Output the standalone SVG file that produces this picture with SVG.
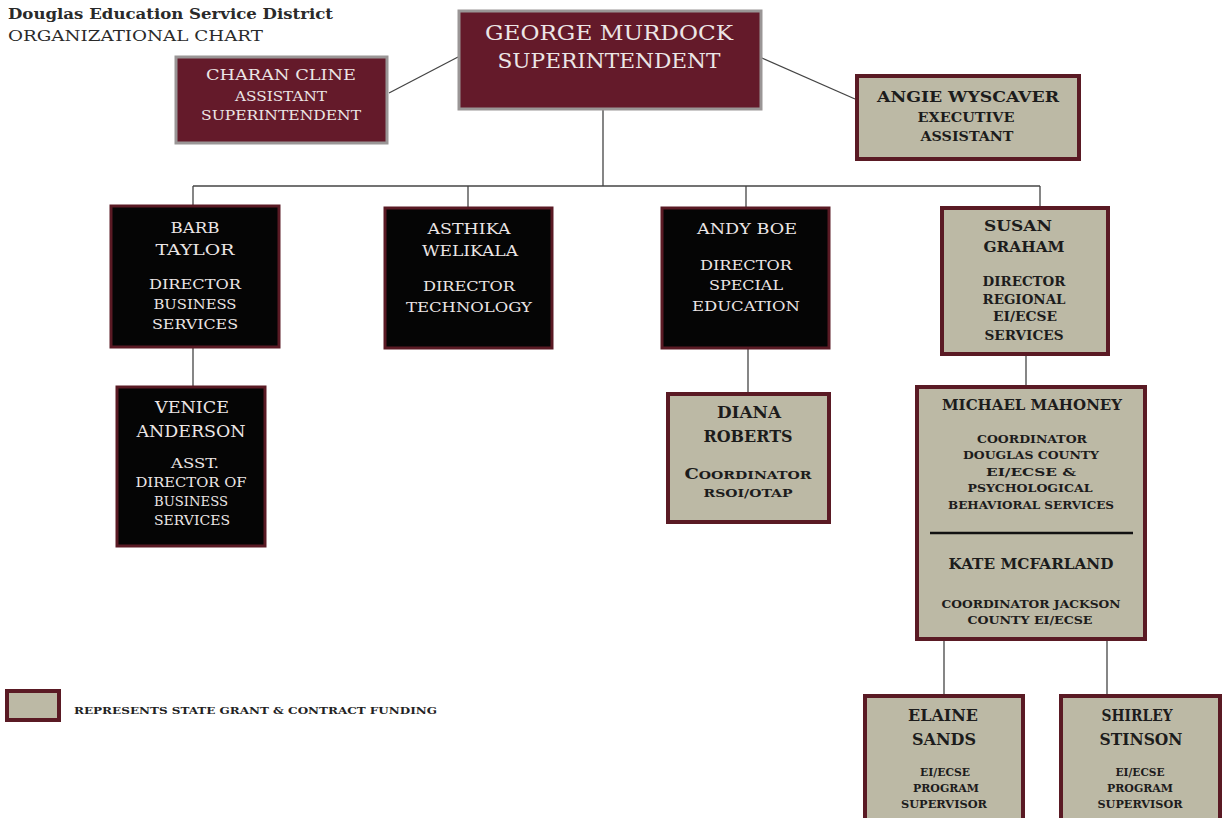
<svg xmlns="http://www.w3.org/2000/svg" width="1224" height="818" viewBox="0 0 1224 818">
<style>
text{font-family:"DejaVu Serif","Liberation Serif",serif;text-anchor:middle}
.dark{fill:#641a2a;stroke:#9a9696;stroke-width:3}
.blk{fill:#050505;stroke:#5a1a24;stroke-width:3}
.grey{fill:#bcb9a5;stroke:#5a1a24;stroke-width:4}
.lt{fill:#ece6e6}
.dk{fill:#1c1c1c;font-weight:bold}
.con{stroke:#444;stroke-width:1.3;fill:none}
.t1{font-size:15px}
.t2{font-size:12px}
.t3{font-size:11px}
</style>
<rect width="1224" height="818" fill="#ffffff"/>
<g id="title">
<text x="8" y="19" textLength="325" lengthAdjust="spacingAndGlyphs" style="text-anchor:start;font-size:15px;font-weight:bold" fill="#2a2a2a">Douglas Education Service District</text>
<text x="8" y="41" textLength="255" lengthAdjust="spacingAndGlyphs" style="text-anchor:start;font-size:15px" fill="#2a2a2a">ORGANIZATIONAL CHART</text>
</g>
<g id="connectors" class="con">
<line x1="389" y1="93" x2="458" y2="57"/>
<line x1="762" y1="58" x2="855" y2="99"/>
<line x1="603" y1="110" x2="603" y2="186"/>
<line x1="193" y1="186" x2="1040" y2="186"/>
<line x1="193" y1="186" x2="193" y2="205"/>
<line x1="468" y1="186" x2="468" y2="207"/>
<line x1="746" y1="186" x2="746" y2="207"/>
<line x1="1040" y1="186" x2="1040" y2="206"/>
<line x1="193" y1="348" x2="193" y2="386"/>
<line x1="748" y1="349" x2="748" y2="392"/>
<line x1="1026" y1="356" x2="1026" y2="385"/>
<line x1="944" y1="641" x2="944" y2="694"/>
<line x1="1107" y1="641" x2="1107" y2="694"/>
</g>
<g id="murdock">
<rect class="dark" x="459" y="11" width="302" height="98"/>
<text class="lt" x="609" y="40" textLength="248" lengthAdjust="spacingAndGlyphs" style="font-size:20px">GEORGE MURDOCK</text>
<text class="lt" x="609" y="68" textLength="223" lengthAdjust="spacingAndGlyphs" style="font-size:20px">SUPERINTENDENT</text>
</g>
<g id="cline">
<rect class="dark" x="176" y="57" width="211" height="86"/>
<text class="lt t1" x="281" y="80" textLength="150" lengthAdjust="spacingAndGlyphs">CHARAN CLINE</text>
<text class="lt t2" x="281" y="101" textLength="92" lengthAdjust="spacingAndGlyphs">ASSISTANT</text>
<text class="lt t2" x="281" y="120" textLength="160" lengthAdjust="spacingAndGlyphs">SUPERINTENDENT</text>
</g>
<g id="wyscaver">
<rect class="grey" x="857" y="76" width="222" height="83"/>
<text class="dk t1" x="968" y="102" textLength="182" lengthAdjust="spacingAndGlyphs">ANGIE WYSCAVER</text>
<text class="dk" x="966" y="122" textLength="97" lengthAdjust="spacingAndGlyphs" style="font-size:13px">EXECUTIVE</text>
<text class="dk" x="967" y="141" textLength="93" lengthAdjust="spacingAndGlyphs" style="font-size:13px">ASSISTANT</text>
</g>
<g id="taylor">
<rect class="blk" x="111" y="206" width="168" height="141"/>
<text class="lt t1" x="195" y="233" textLength="49" lengthAdjust="spacingAndGlyphs">BARB</text>
<text class="lt t1" x="195" y="255" textLength="79" lengthAdjust="spacingAndGlyphs">TAYLOR</text>
<text class="lt t2" x="195" y="289" textLength="92" lengthAdjust="spacingAndGlyphs">DIRECTOR</text>
<text class="lt t2" x="195" y="309" textLength="83" lengthAdjust="spacingAndGlyphs">BUSINESS</text>
<text class="lt t2" x="195" y="329" textLength="86" lengthAdjust="spacingAndGlyphs">SERVICES</text>
</g>
<g id="welikala">
<rect class="blk" x="385" y="208" width="167" height="140"/>
<text class="lt t1" x="469" y="234" textLength="83" lengthAdjust="spacingAndGlyphs">ASTHIKA</text>
<text class="lt t1" x="470" y="256" textLength="96" lengthAdjust="spacingAndGlyphs">WELIKALA</text>
<text class="lt t2" x="469" y="291" textLength="92" lengthAdjust="spacingAndGlyphs">DIRECTOR</text>
<text class="lt t2" x="469" y="312" textLength="126" lengthAdjust="spacingAndGlyphs">TECHNOLOGY</text>
</g>
<g id="boe">
<rect class="blk" x="662" y="208" width="167" height="140"/>
<text class="lt t1" x="747" y="234" textLength="100" lengthAdjust="spacingAndGlyphs">ANDY BOE</text>
<text class="lt t2" x="746" y="270" textLength="92" lengthAdjust="spacingAndGlyphs">DIRECTOR</text>
<text class="lt t2" x="746" y="290" textLength="74" lengthAdjust="spacingAndGlyphs">SPECIAL</text>
<text class="lt t2" x="746" y="311" textLength="108" lengthAdjust="spacingAndGlyphs">EDUCATION</text>
</g>
<g id="graham">
<rect class="grey" x="942" y="208" width="166" height="146"/>
<text class="dk t1" x="1018" y="231" textLength="68" lengthAdjust="spacingAndGlyphs">SUSAN</text>
<text class="dk t1" x="1024" y="252" textLength="81" lengthAdjust="spacingAndGlyphs">GRAHAM</text>
<text class="dk t2" x="1024" y="286" textLength="83" lengthAdjust="spacingAndGlyphs">DIRECTOR</text>
<text class="dk t2" x="1024" y="304" textLength="83" lengthAdjust="spacingAndGlyphs">REGIONAL</text>
<text class="dk t2" x="1025" y="321" textLength="64" lengthAdjust="spacingAndGlyphs">EI/ECSE</text>
<text class="dk t2" x="1024" y="340" textLength="79" lengthAdjust="spacingAndGlyphs">SERVICES</text>
</g>
<g id="anderson">
<rect class="blk" x="117" y="387" width="148" height="159"/>
<text class="lt" x="192" y="413" textLength="74" lengthAdjust="spacingAndGlyphs" style="font-size:16px">VENICE</text>
<text class="lt" x="191" y="437" textLength="109" lengthAdjust="spacingAndGlyphs" style="font-size:16px">ANDERSON</text>
<text class="lt t2" x="195" y="468" textLength="48" lengthAdjust="spacingAndGlyphs">ASST.</text>
<text class="lt t2" x="191" y="487" textLength="111" lengthAdjust="spacingAndGlyphs">DIRECTOR OF</text>
<text class="lt t2" x="191" y="506" textLength="74" lengthAdjust="spacingAndGlyphs">BUSINESS</text>
<text class="lt t2" x="192" y="525" textLength="76" lengthAdjust="spacingAndGlyphs">SERVICES</text>
</g>
<g id="roberts">
<rect class="grey" x="668" y="394" width="161" height="128"/>
<text class="dk" x="749" y="418" textLength="64" lengthAdjust="spacingAndGlyphs" style="font-size:16px">DIANA</text>
<text class="dk" x="748" y="442" textLength="89" lengthAdjust="spacingAndGlyphs" style="font-size:16px">ROBERTS</text>
<text class="dk" x="748" y="479" textLength="127" lengthAdjust="spacingAndGlyphs" style="font-size:14px">C<tspan style="font-size:11px">OORDINATOR</tspan></text>
<text class="dk t3" x="748" y="497" textLength="89" lengthAdjust="spacingAndGlyphs">RSOI/OTAP</text>
</g>
<g id="mahoney">
<rect class="grey" x="917" y="387" width="228" height="252"/>
<text class="dk t1" x="1032" y="410" textLength="180" lengthAdjust="spacingAndGlyphs">MICHAEL MAHONEY</text>
<text class="dk t3" x="1032" y="443" textLength="110" lengthAdjust="spacingAndGlyphs">COORDINATOR</text>
<text class="dk t3" x="1031" y="459" textLength="136" lengthAdjust="spacingAndGlyphs">DOUGLAS COUNTY</text>
<text class="dk t3" x="1031" y="476" textLength="90" lengthAdjust="spacingAndGlyphs">EI/ECSE &amp;</text>
<text class="dk t3" x="1030" y="492" textLength="125" lengthAdjust="spacingAndGlyphs">PSYCHOLOGICAL</text>
<text class="dk t3" x="1031" y="509" textLength="166" lengthAdjust="spacingAndGlyphs">BEHAVIORAL SERVICES</text>
<line x1="930" y1="533" x2="1133" y2="533" stroke="#111" stroke-width="2.5"/>
<text class="dk t1" x="1031" y="569" textLength="165" lengthAdjust="spacingAndGlyphs">KATE MCFARLAND</text>
<text class="dk t3" x="1031" y="608" textLength="179" lengthAdjust="spacingAndGlyphs">COORDINATOR JACKSON</text>
<text class="dk t3" x="1030" y="624" textLength="125" lengthAdjust="spacingAndGlyphs">COUNTY EI/ECSE</text>
</g>
<g id="sands">
<rect class="grey" x="865" y="696" width="158" height="130"/>
<text class="dk" x="943" y="721" textLength="70" lengthAdjust="spacingAndGlyphs" style="font-size:16px">ELAINE</text>
<text class="dk" x="944" y="745" textLength="64" lengthAdjust="spacingAndGlyphs" style="font-size:16px">SANDS</text>
<text class="dk t3" x="945" y="776" textLength="50" lengthAdjust="spacingAndGlyphs">EI/ECSE</text>
<text class="dk t3" x="946" y="792" textLength="66" lengthAdjust="spacingAndGlyphs">PROGRAM</text>
<text class="dk t3" x="944" y="808" textLength="86" lengthAdjust="spacingAndGlyphs">SUPERVISOR</text>
</g>
<g id="stinson">
<rect class="grey" x="1061" y="696" width="159" height="130"/>
<text class="dk" x="1137" y="721" textLength="71" lengthAdjust="spacingAndGlyphs" style="font-size:16px">SHIRLEY</text>
<text class="dk" x="1141" y="745" textLength="83" lengthAdjust="spacingAndGlyphs" style="font-size:16px">STINSON</text>
<text class="dk t3" x="1140" y="776" textLength="49" lengthAdjust="spacingAndGlyphs">EI/ECSE</text>
<text class="dk t3" x="1140" y="792" textLength="66" lengthAdjust="spacingAndGlyphs">PROGRAM</text>
<text class="dk t3" x="1140" y="808" textLength="85" lengthAdjust="spacingAndGlyphs">SUPERVISOR</text>
</g>
<g id="legend">
<rect class="grey" x="7" y="691" width="52" height="29"/>
<text x="74" y="714" textLength="363" lengthAdjust="spacingAndGlyphs" style="text-anchor:start;font-size:9px;font-weight:bold" fill="#222">REPRESENTS STATE GRANT &amp; CONTRACT FUNDING</text>
</g>
</svg>
